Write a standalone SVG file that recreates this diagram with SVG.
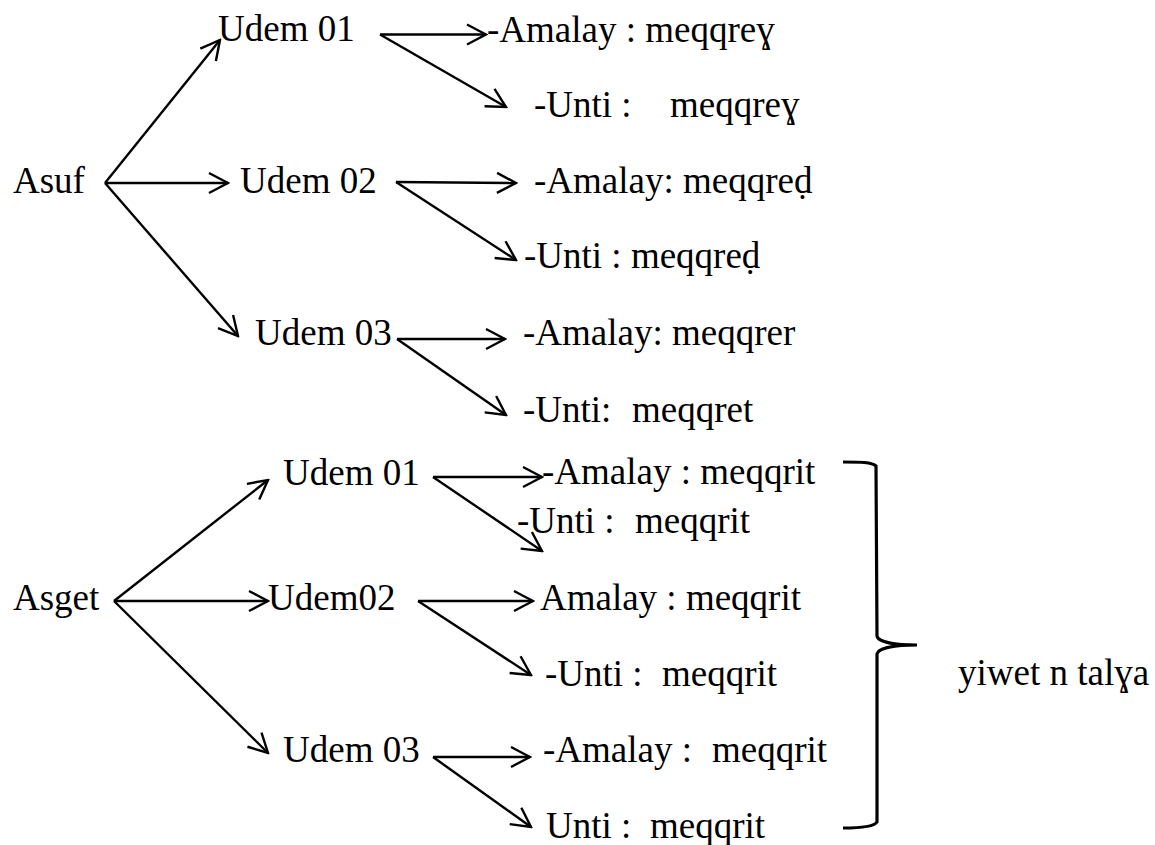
<svg xmlns="http://www.w3.org/2000/svg" width="1155" height="845" viewBox="0 0 1155 845">
<style>
text{font-family:"Liberation Serif","DejaVu Serif",serif;font-size:37px;fill:#000}
.c{stroke:#000;stroke-width:2.4;fill:none}
.b{stroke:#000;stroke-width:3.2;fill:none}
</style>
<defs>
<marker id="ah" viewBox="-22 -12 24 24" refX="0" refY="0" markerWidth="24" markerHeight="24" markerUnits="userSpaceOnUse" orient="auto">
<path d="M-19,-10 L0,0 L-19,10" stroke="#000" stroke-width="2.4" fill="none"/>
</marker>
</defs>
<rect width="1155" height="845" fill="#fff"/>
<g id="connectors">
<line class="c" x1="105" y1="183" x2="220" y2="40" marker-end="url(#ah)"/>
<line class="c" x1="105" y1="183" x2="228" y2="183" marker-end="url(#ah)"/>
<line class="c" x1="105" y1="183" x2="238" y2="336" marker-end="url(#ah)"/>
<line class="c" x1="380" y1="34.5" x2="486" y2="34.5" marker-end="url(#ah)"/>
<line class="c" x1="380" y1="34.5" x2="506" y2="107" marker-end="url(#ah)"/>
<line class="c" x1="396" y1="182" x2="516" y2="183" marker-end="url(#ah)"/>
<line class="c" x1="396" y1="182" x2="516" y2="260" marker-end="url(#ah)"/>
<line class="c" x1="397" y1="339" x2="505" y2="339" marker-end="url(#ah)"/>
<line class="c" x1="397" y1="339" x2="506" y2="415" marker-end="url(#ah)"/>
<line class="c" x1="114" y1="601" x2="268" y2="480" marker-end="url(#ah)"/>
<line class="c" x1="114" y1="601" x2="268" y2="601" marker-end="url(#ah)"/>
<line class="c" x1="114" y1="601" x2="268" y2="753" marker-end="url(#ah)"/>
<line class="c" x1="433" y1="477" x2="542" y2="477" marker-end="url(#ah)"/>
<line class="c" x1="433" y1="477" x2="542" y2="551" marker-end="url(#ah)"/>
<line class="c" x1="418" y1="601" x2="533" y2="601" marker-end="url(#ah)"/>
<line class="c" x1="418" y1="601" x2="531" y2="675" marker-end="url(#ah)"/>
<line class="c" x1="433" y1="757" x2="530" y2="757" marker-end="url(#ah)"/>
<line class="c" x1="433" y1="757" x2="531" y2="827" marker-end="url(#ah)"/>
</g>
<g id="brace">
<path class="b" d="M843,462 C860,462 872,462 876,466 L877,636 C878,642 895,645 917,645 M917,645 C895,645 878,648 877,654 L877,822 C874,827 860,828 843,828"/>
</g>
<g id="asuf"><text x="13" y="193">Asuf</text></g>
<g id="asuf-udem01"><text x="218" y="41">Udem 01</text></g>
<g id="asuf-udem02"><text x="240" y="193">Udem 02</text></g>
<g id="asuf-udem03"><text x="255" y="345">Udem 03</text></g>
<g id="a1-amalay"><text x="487" y="42">-Amalay : meqqreɣ</text></g>
<g id="a1-unti"><text y="117"><tspan x="534">-Unti :</tspan><tspan x="670">meqqreɣ</tspan></text></g>
<g id="a2-amalay"><text x="534" y="193">-Amalay: meqqreḍ</text></g>
<g id="a2-unti"><text x="524" y="268">-Unti : meqqreḍ</text></g>
<g id="a3-amalay"><text x="523" y="345">-Amalay: meqqrer</text></g>
<g id="a3-unti"><text y="422"><tspan x="523">-Unti:</tspan><tspan x="632">meqqret</tspan></text></g>
<g id="asget"><text x="13" y="610">Asget</text></g>
<g id="asget-udem01"><text x="283" y="485">Udem 01</text></g>
<g id="asget-udem02"><text x="268" y="610">Udem02</text></g>
<g id="asget-udem03"><text x="283" y="762">Udem 03</text></g>
<g id="g1-amalay"><text x="542" y="484">-Amalay : meqqrit</text></g>
<g id="g1-unti"><text y="533"><tspan x="517">-Unti :</tspan><tspan x="635">meqqrit</tspan></text></g>
<g id="g2-amalay"><text x="540" y="610">Amalay : meqqrit</text></g>
<g id="g2-unti"><text y="686"><tspan x="545">-Unti :</tspan><tspan x="662">meqqrit</tspan></text></g>
<g id="g3-amalay"><text y="762"><tspan x="543">-Amalay :</tspan><tspan x="712">meqqrit</tspan></text></g>
<g id="g3-unti"><text y="838"><tspan x="546">Unti :</tspan><tspan x="650">meqqrit</tspan></text></g>
<g id="label"><text x="958" y="685">yiwet n talɣa</text></g>
</svg>
